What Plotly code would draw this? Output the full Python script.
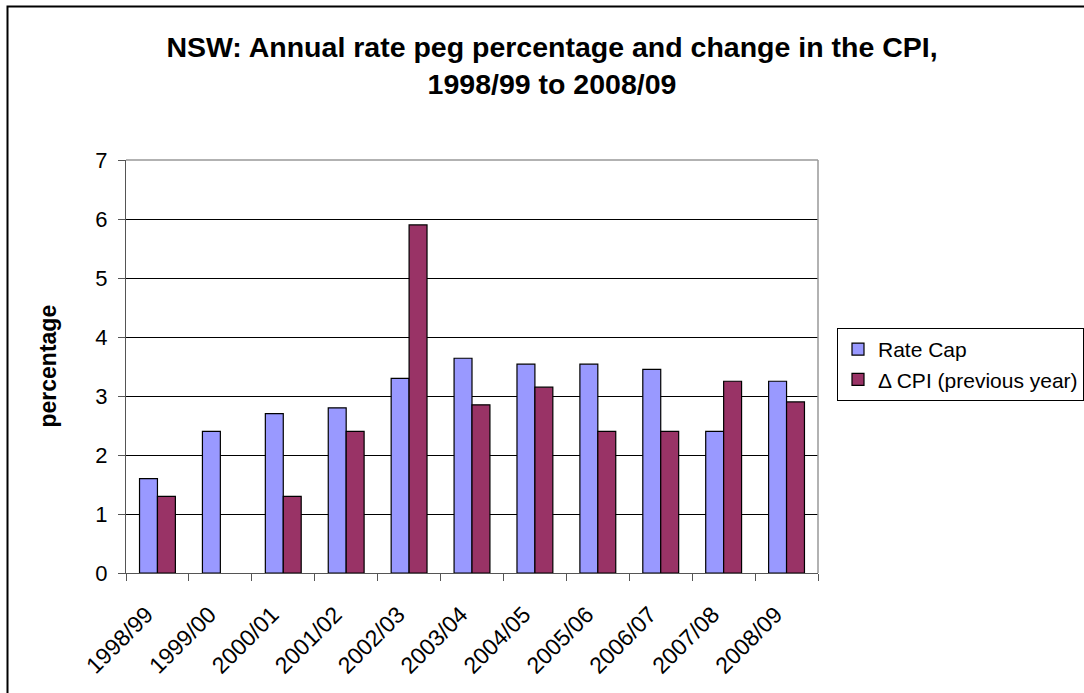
import plotly.graph_objects as go

years = ["1998/99", "1999/00", "2000/01", "2001/02", "2002/03", "2003/04",
         "2004/05", "2005/06", "2006/07", "2007/08", "2008/09"]
rate_cap = [1.6, 2.4, 2.7, 2.8, 3.3, 3.64, 3.54, 3.54, 3.45, 2.4, 3.25]
cpi_change = [1.3, None, 1.3, 2.4, 5.9, 2.85, 3.15, 2.4, 2.4, 3.25, 2.9]
y_ticks = [0, 1, 2, 3, 4, 5, 6, 7]

FONT = "Liberation Sans, Arial, sans-serif"

fig = go.Figure()
fig.add_trace(go.Bar(x=years, y=rate_cap, name="Rate Cap",
                     marker=dict(color="#9999FF", line=dict(color="black", width=1.2))))
fig.add_trace(go.Bar(x=years, y=cpi_change, name="\u0394 CPI (previous year)",
                     marker=dict(color="#993366", line=dict(color="black", width=1.2))))

fig.update_layout(
    width=1084, height=693,
    margin=dict(l=126, r=266, t=160, b=120, autoexpand=False),
    paper_bgcolor="white", plot_bgcolor="white",
    barmode="group", bargap=0.43, bargroupgap=0,
    font=dict(family=FONT, size=21, color="black"),
    title=dict(text="<b>NSW: Annual rate peg percentage and change in the CPI,<br>1998/99 to 2008/09</b>",
               x=552/1084, xanchor="center", y=1 - 57/693, yanchor="top",
               font=dict(family=FONT, size=28.5, color="black")),
    legend=dict(x=(837-126)/692, xanchor="left", y=(573-328)/413, yanchor="top",
                bordercolor="black", borderwidth=1, bgcolor="white",
                font=dict(family=FONT, size=21, color="black"),
                itemwidth=30, tracegroupgap=0),
    showlegend=True,
)
fig.update_xaxes(
    type="category", tickangle=-45, ticks="outside", ticklen=7, tickcolor="#555",
    tickson="boundaries", showline=True, linecolor="#555", linewidth=1,
    showgrid=False, tickfont=dict(size=23),
    ticklabelstandoff=18, ticklabelshift=-11,
)
fig.update_yaxes(
    range=[0, 7], tickvals=y_ticks, ticks="outside", ticklen=7, tickcolor="#555",
    showline=True, linecolor="#555", linewidth=1,
    showgrid=True, gridcolor="black", gridwidth=1, zeroline=False,
    tickfont=dict(size=22), ticklabelstandoff=6,
)
# plot-area border (grey) on top and right
fig.add_shape(type="line", xref="paper", yref="paper", x0=0, x1=1, y0=1, y1=1,
              line=dict(color="#999", width=1.5), layer="above")
fig.add_shape(type="line", xref="paper", yref="paper", x0=1, x1=1, y0=0, y1=1,
              line=dict(color="#999", width=1.5), layer="above")
# outer chart border
fig.add_shape(type="rect", xref="paper", yref="paper",
              x0=(7.5-126)/692, x1=(1095-126)/692, y0=(573-705)/413, y1=(573-6.5)/413,
              line=dict(color="black", width=2), layer="below")
fig.add_annotation(text="<b>percentage</b>", xref="paper", yref="paper",
                   x=(47-126)/692, xanchor="center", y=0.5, yanchor="middle",
                   textangle=-90, showarrow=False,
                   font=dict(family=FONT, size=23, color="black"))

fig.write_html("out.html")
